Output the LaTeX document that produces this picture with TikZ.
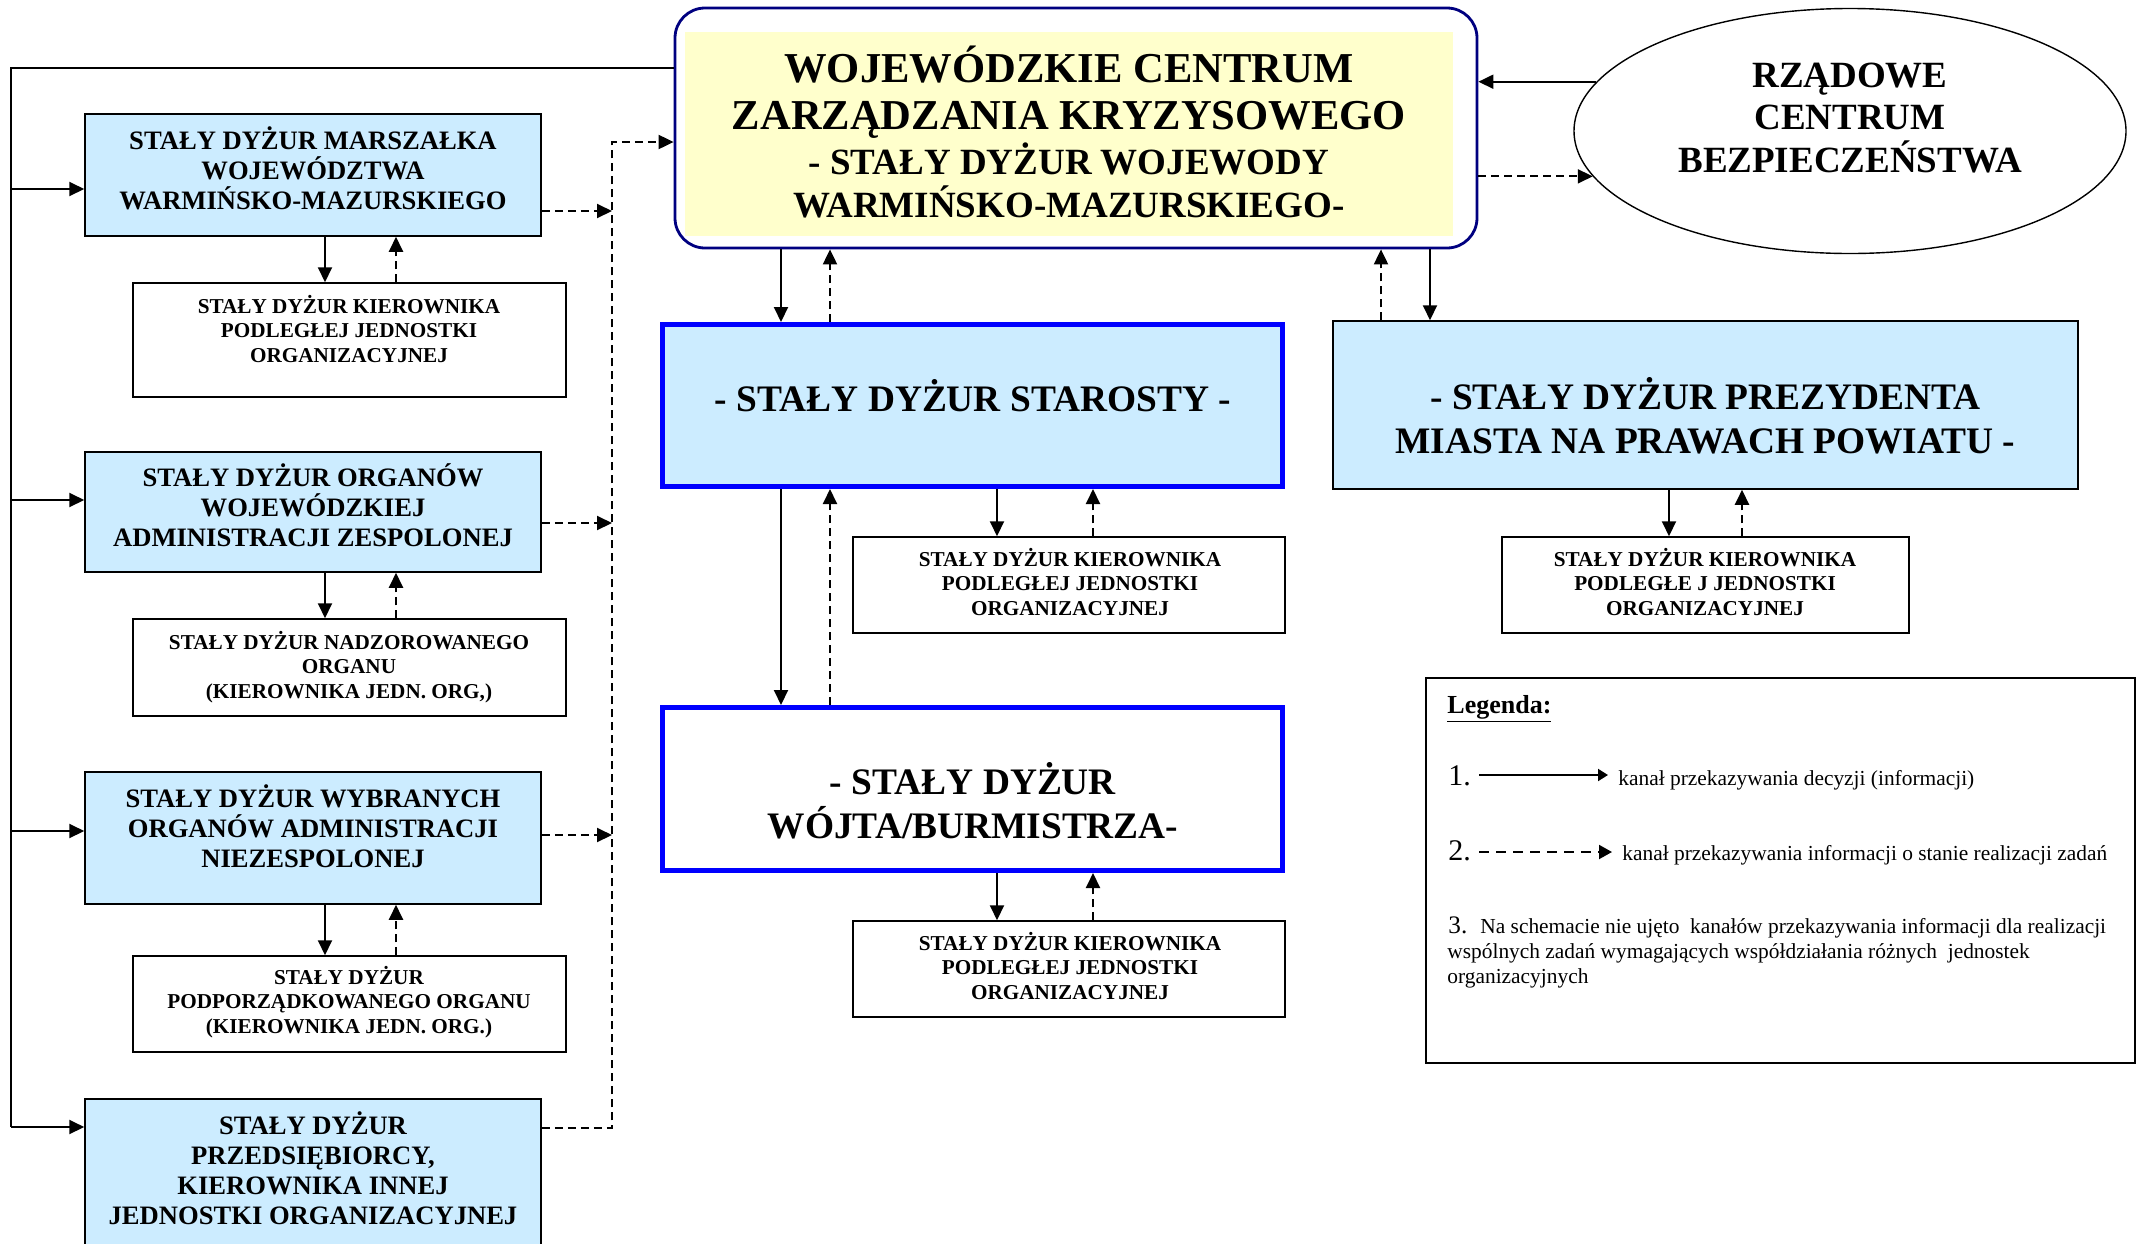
\documentclass[tikz,border=0pt]{standalone}
\usepackage{fontspec}
\setmainfont{Liberation Serif}
\usetikzlibrary{arrows.meta,shapes.geometric}
\definecolor{lblue}{RGB}{204,236,255}
\definecolor{ylw}{RGB}{255,255,204}
\definecolor{bblue}{RGB}{0,0,255}
\definecolor{navy}{RGB}{0,0,128}
\begin{document}
\begin{tikzpicture}[x=0.5pt,y=-0.5pt,
  lbox/.style={draw=black,line width=0.75pt,fill=lblue,inner sep=0pt},
  sbox/.style={draw=black,line width=0.75pt,fill=white,inner sep=0pt},
  bbox/.style={draw=bblue,line width=2.5pt,inner sep=0pt},
  txtL/.style={align=center,inner sep=0pt,font=\fontsize{13.3}{15}\selectfont\bfseries},
  txtS/.style={align=center,inner sep=0pt,font=\fontsize{10.6}{12.25}\selectfont\bfseries},
  txtM/.style={align=center,inner sep=0pt,font=\fontsize{18.7}{22}\selectfont\bfseries},
  legt/.style={anchor=base west,inner sep=0pt,font=\fontsize{10.7}{12.5}\selectfont},
  arr/.style={line width=1pt,-{Triangle[length=7.5pt,width=7pt]}},
  darr/.style={arr,dash pattern=on 4pt off 2.5pt},
]
\fill[white] (0,0) rectangle (2143,1243);
\useasboundingbox (0,0) rectangle (2143,1243);

% central WCZK
\node[draw=navy,line width=1.4pt,rounded corners=15pt,fill=white,minimum width=401pt,minimum height=120pt,inner sep=0pt] (wczk) at (1076,128) {};
\fill[ylw] (685,32) rectangle (1453,236);
\node[align=center,inner sep=0pt,font=\fontsize{21.3}{24}\selectfont\bfseries] (wczkt) at (1069,132)
 {WOJEWÓDZKIE CENTRUM\\ZARZĄDZANIA KRYZYSOWEGO\\[-1.5pt]{\fontsize{18.5}{21}\selectfont - STAŁY DYŻUR WOJEWODY}\\[-2.5pt]{\fontsize{18.5}{21}\selectfont WARMIŃSKO-MAZURSKIEGO-}};

% ellipse
\node[ellipse,draw,line width=0.7pt,minimum width=276pt,minimum height=122.5pt,inner sep=0pt] (rcb) at (1850,131) {};
\node[align=center,inner sep=0pt,font=\fontsize{18.5}{21.25}\selectfont\bfseries] (rcbt) at (1850,118) {RZĄDOWE\\CENTRUM\\BEZPIECZEŃSTWA};

% starosta / wojt / prezydent
\node[bbox,fill=lblue,minimum width=310pt,minimum height=81pt] (star) at (972.5,405.5) {};
\node[txtM] (start) at (973,396) {- STAŁY DYŻUR STAROSTY -};
\node[bbox,fill=white,minimum width=310pt,minimum height=81.5pt] (wojt) at (972.5,789) {};
\node[txtM] (wojtt) at (973,801) {- STAŁY DYŻUR\\WÓJTA/BURMISTRZA-};
\node[lbox,minimum width=372.5pt,minimum height=84pt] (prez) at (1705.5,405) {};
\node[txtM] (prezt) at (1705.5,415.5) {- STAŁY DYŻUR PREZYDENTA\\MIASTA NA PRAWACH POWIATU -};

% centre sub boxes
\node[sbox,minimum width=216pt,minimum height=48pt] (c1) at (1069,585) {};
\node[txtS] (c1t) at (1070,582) {STAŁY DYŻUR KIEROWNIKA\\PODLEGŁEJ JEDNOSTKI\\ORGANIZACYJNEJ};
\node[sbox,minimum width=216pt,minimum height=48pt] (c2) at (1069,969) {};
\node[txtS] (c2t) at (1070,966) {STAŁY DYŻUR KIEROWNIKA\\PODLEGŁEJ JEDNOSTKI\\ORGANIZACYJNEJ};
\node[sbox,minimum width=203.5pt,minimum height=48pt] (p1) at (1705.5,585) {};
\node[txtS] (p1t) at (1705,582) {STAŁY DYŻUR KIEROWNIKA\\PODLEGŁE J JEDNOSTKI\\ORGANIZACYJNEJ};

% left column
\node[lbox,minimum width=228pt,minimum height=61pt] (m1) at (313,175) {};
\node[txtL] (m1t) at (313,168) {STAŁY DYŻUR MARSZAŁKA\\WOJEWÓDZTWA\\WARMIŃSKO-MAZURSKIEGO};
\node[sbox,minimum width=216.5pt,minimum height=57pt] (s1) at (349.5,340) {};
\node[txtS] (s1t) at (349,329) {STAŁY DYŻUR KIEROWNIKA\\PODLEGŁEJ JEDNOSTKI\\ORGANIZACYJNEJ};
\node[lbox,minimum width=228pt,minimum height=60pt] (m2) at (313,512) {};
\node[txtL] (m2t) at (313,505) {STAŁY DYŻUR ORGANÓW\\WOJEWÓDZKIEJ\\ADMINISTRACJI ZESPOLONEJ};
\node[sbox,minimum width=216.5pt,minimum height=48.5pt] (s2) at (349.5,667.5) {};
\node[txtS] (s2t) at (349,667) {STAŁY DYŻUR NADZOROWANEGO\\ORGANU\\(KIEROWNIKA JEDN. ORG,)};
\node[lbox,minimum width=228pt,minimum height=66pt] (m3) at (313,838) {};
\node[txtL] (m3t) at (313,826) {STAŁY DYŻUR WYBRANYCH\\ORGANÓW ADMINISTRACJI\\NIEZESPOLONEJ};
\node[sbox,minimum width=216.5pt,minimum height=48pt] (s3) at (349.5,1004) {};
\node[txtS] (s3t) at (349,1002) {STAŁY DYŻUR\\PODPORZĄDKOWANEGO ORGANU\\(KIEROWNIKA JEDN. ORG.)};
\node[lbox,minimum width=228pt,minimum height=80.5pt] (m4) at (313,1179.5) {};
\node[txtL] (m4t) at (313,1168) {STAŁY DYŻUR\\PRZEDSIĘBIORCY,\\KIEROWNIKA INNEJ\\JEDNOSTKI ORGANIZACYJNEJ};

% left solid distribution line
\coordinate (lt) at (11,68);
\draw[line width=0.9pt] (wczk.west |- lt) -- (lt) -- (lt |- 0,1127);
\draw[arr] (lt |- 0,189) -- (m1.west |- 0,189);
\draw[arr] (lt |- 0,500) -- (m2.west |- 0,500);
\draw[arr] (lt |- 0,831) -- (m3.west |- 0,831);
\draw[arr] (lt |- 0,1127) -- (m4.west |- 0,1127);

% left dashed collector
\coordinate (dc) at (612,142);
\draw[darr] (m4.east |- 0,1128) -- (dc |- 0,1128) -- (dc) -- (wczk.west |- dc);
\draw[darr] (m1.east |- 0,211) -- (dc |- 0,211);
\draw[darr] (m2.east |- 0,523) -- (dc |- 0,523);
\draw[darr] (m3.east |- 0,835) -- (dc |- 0,835);

% left box to sub box
\draw[arr] (325,0 |- m1.south) -- (325,0 |- s1.north);
\draw[darr] (396,0 |- s1.north) -- (396,0 |- m1.south);
\draw[arr] (325,0 |- m2.south) -- (325,0 |- s2.north);
\draw[darr] (396,0 |- s2.north) -- (396,0 |- m2.south);
\draw[arr] (325,0 |- m3.south) -- (325,0 |- s3.north);
\draw[darr] (396,0 |- s3.north) -- (396,0 |- m3.south);

% centre
\draw[arr] (781,0 |- wczk.south) -- (781,0 |- star.north);
\draw[darr] (830,0 |- star.north) -- (830,0 |- wczk.south);
\draw[arr] (781,0 |- star.south) -- (781,0 |- wojt.north);
\draw[darr] (830,0 |- wojt.north) -- (830,0 |- star.south);
\draw[arr] (997,0 |- star.south) -- (997,0 |- c1.north);
\draw[darr] (1093,0 |- c1.north) -- (1093,0 |- star.south);
\draw[arr] (997,0 |- wojt.south) -- (997,0 |- c2.north);
\draw[darr] (1093,0 |- c2.north) -- (1093,0 |- wojt.south);

% right
\draw[darr] (1381,0 |- prez.north) -- (1381,0 |- wczk.south);
\draw[arr] (1430,0 |- wczk.south) -- (1430,0 |- prez.north);
\draw[arr] (1669,0 |- prez.south) -- (1669,0 |- p1.north);
\draw[darr] (1742,0 |- p1.north) -- (1742,0 |- prez.south);

% ellipse links
\draw[arr] (rcb.169) -- (wczk.east |- rcb.169);
\draw[darr] (wczk.east |- rcb.190) -- (rcb.190);

% legend
\node[draw,line width=0.75pt,minimum width=354.5pt,minimum height=192.5pt,inner sep=0pt] (leg) at (1780.5,870.5) {};
\node[anchor=base west,inner sep=0pt,font=\fontsize{13}{15}\selectfont\bfseries] (legh) at (1447,713) {\underline{Legenda:}};
\node[anchor=base west,inner sep=0pt,font=\fontsize{15}{18}\selectfont] (n1) at (1448,785) {1.};
\coordinate (a1s) at (1479,775);
\coordinate (a1e) at (1608,775);
\draw[line width=1pt,-{Triangle[length=5pt,width=6pt]}] (a1s) -- (a1e);
\node[legt] (t1) at (1618,785) {kanał przekazywania decyzji (informacji)};
\node[anchor=base west,inner sep=0pt,font=\fontsize{15}{18}\selectfont] (n2) at (1448,860) {2.};
\coordinate (a2s) at (1479,852);
\coordinate (a2e) at (1612,852);
\draw[line width=1pt,dash pattern=on 5pt off 3.5pt,-{Triangle[length=6.5pt,width=7pt]}] (a2s) -- (a2e);
\node[legt] (t2) at (1622,860) {kanał przekazywania informacji o stanie realizacji zadań};
\node[anchor=base west,inner sep=0pt,font=\fontsize{12.6}{15}\selectfont] (n3) at (1448,933) {3.};
\node[legt] (t3a) at (1480,933) {Na schemacie nie ujęto\ \ kanałów przekazywania informacji dla realizacji};
\node[legt] (t3b) at (1447,958) {wspólnych zadań wymagających współdziałania różnych\ \ jednostek};
\node[legt] (t3c) at (1447,983) {organizacyjnych};
\end{tikzpicture}
\end{document}
